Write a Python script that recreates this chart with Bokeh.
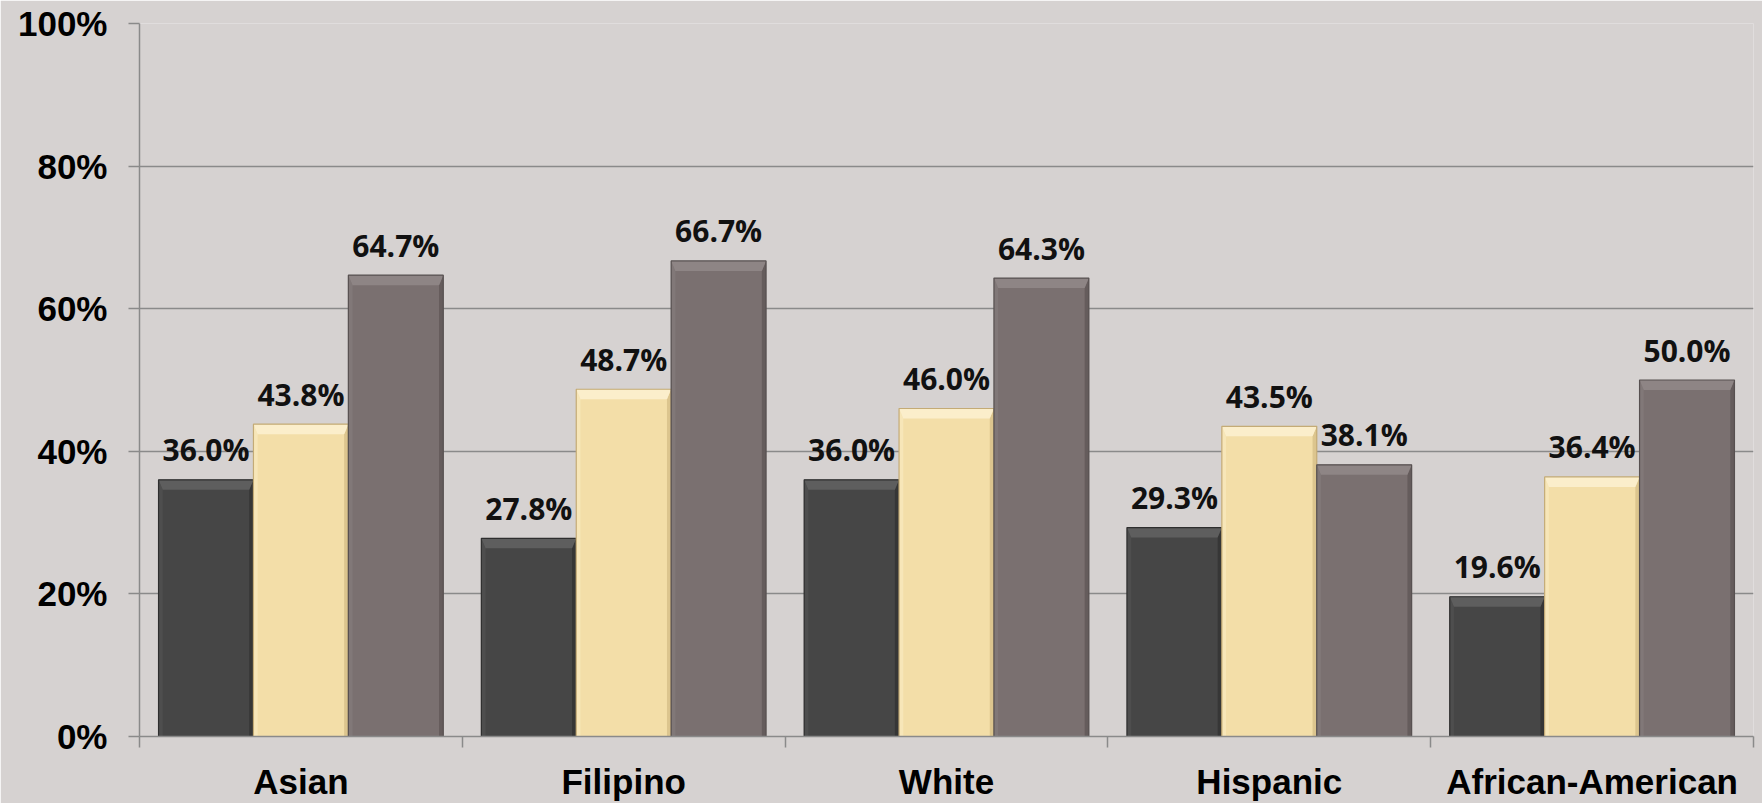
from bokeh.plotting import figure
from bokeh.models import ColumnDataSource, FixedTicker, NumeralTickFormatter, Range1d
from bokeh.core.properties import value
from bokeh.embed import file_html
from bokeh.resources import INLINE

categories = ["Asian", "Filipino", "White", "Hispanic", "African-American"]
series_a = [0.360, 0.278, 0.360, 0.293, 0.196]
series_b = [0.438, 0.487, 0.460, 0.435, 0.364]
series_c = [0.647, 0.667, 0.643, 0.381, 0.500]
colors = ["#464646", "#f3dea8", "#7a7070"]
top_colors = ["#5e5e5e", "#fbeecb", "#8e8585"]
left_colors = ["#4e4e4e", "#f7e6b8", "#817878"]
right_colors = ["#363636", "#dcc58e", "#655c5c"]
edge_colors = ["#2e2e2e", "#c4ab76", "#575050"]
y_ticks = [0, 0.2, 0.4, 0.6, 0.8, 1.0]

BG = "#d6d2d1"
GRID = "#8a8a8a"
bar_w = 0.294
bdx = 0.013   # bevel width (x units)
bdy = 0.014   # bevel height (y units)

p = figure(width=1762, height=803, output_backend="svg", toolbar_location=None,
           x_range=Range1d(0, len(categories)), y_range=Range1d(0, 1),
           background_fill_color=BG, border_fill_color=BG,
           min_border_left=139, min_border_right=9, min_border_top=23, min_border_bottom=64)
p.outline_line_color = None

all_series = [series_a, series_b, series_c]
offsets = [-bar_w, 0.0, bar_w]
for vals, off, col, tc, lc, rc, ec in zip(all_series, offsets, colors, top_colors,
                                          left_colors, right_colors, edge_colors):
    xs = [i + 0.5 + off for i in range(len(categories))]
    src = ColumnDataSource(dict(x=xs, top=vals,
                                label=[f"{v*100:.1f}%" for v in vals]))
    p.vbar(x="x", top="top", bottom=0, width=bar_w, source=src,
           fill_color=col, line_color=None)
    tops_x, tops_y, lefts_x, lefts_y, rights_x, rights_y = [], [], [], [], [], []
    for x, t in zip(xs, vals):
        L, R = x - bar_w / 2, x + bar_w / 2
        tops_x.append([L, R, R - bdx, L + bdx])
        tops_y.append([t, t, t - bdy, t - bdy])
        lefts_x.append([L, L + bdx, L + bdx, L])
        lefts_y.append([t, t - bdy, 0, 0])
        rights_x.append([R, R, R - bdx, R - bdx])
        rights_y.append([t, 0, 0, t - bdy])
    p.patches(xs=lefts_x, ys=lefts_y, fill_color=lc, line_color=None)
    p.patches(xs=rights_x, ys=rights_y, fill_color=rc, line_color=None)
    p.patches(xs=tops_x, ys=tops_y, fill_color=tc, line_color=None)
    p.vbar(x="x", top="top", bottom=0, width=bar_w, source=src,
           fill_color=None, line_color=ec, line_width=1.2)
    p.text(x="x", y="top", text="label", source=src, y_offset=-30,
           text_align="center", text_baseline="alphabetic",
           text_font=value("Open Sans"), text_font_style="bold",
           text_font_size="30px", text_color="#111111")

# y axis
p.yaxis.ticker = FixedTicker(ticks=y_ticks)
p.yaxis.formatter = NumeralTickFormatter(format="0%")
p.yaxis.major_label_text_font = "Liberation Sans"
p.yaxis.major_label_text_font_style = "bold"
p.yaxis.major_label_text_font_size = "35px"
p.yaxis.major_label_text_color = "#000000"
p.yaxis.major_label_standoff = 21
p.yaxis.major_tick_out = 11
p.yaxis.major_tick_in = 0
p.yaxis.minor_tick_out = 0
p.yaxis.minor_tick_in = 0
p.yaxis.axis_line_color = GRID
p.yaxis.major_tick_line_color = GRID
p.yaxis.axis_line_width = 1.5
p.yaxis.major_tick_line_width = 1.5

# x axis: labels at centers, ticks at boundaries
p.xaxis.ticker = FixedTicker(ticks=[i + 0.5 for i in range(len(categories))],
                             minor_ticks=list(range(len(categories) + 1)))
p.xaxis.major_label_overrides = {i + 0.5: c for i, c in enumerate(categories)}
p.xaxis.major_label_text_font = "Liberation Sans"
p.xaxis.major_label_text_font_style = "bold"
p.xaxis.major_label_text_font_size = "35px"
p.xaxis.major_label_text_color = "#000000"
p.xaxis.major_label_standoff = 14
p.xaxis.major_tick_out = 0
p.xaxis.major_tick_in = 0
p.xaxis.minor_tick_out = 11
p.xaxis.minor_tick_in = 0
p.xaxis.axis_line_color = GRID
p.xaxis.minor_tick_line_color = GRID
p.xaxis.axis_line_width = 1.5
p.xaxis.minor_tick_line_width = 1.5

p.xgrid.grid_line_color = None
p.ygrid.grid_line_color = GRID
p.ygrid.grid_line_width = 1.5

html = file_html(p, INLINE)
html = html.replace("<body>", '<body style="background:%s">' % BG, 1)
open("out.html", "w").write(html)
